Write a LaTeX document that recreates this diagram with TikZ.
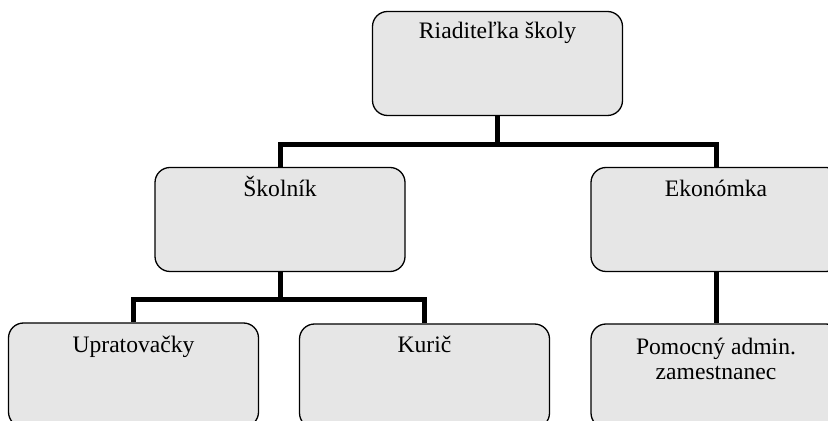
\documentclass[tikz,border=0pt]{standalone}
\usepackage{fontspec}
\setmainfont{Liberation Serif}
\usetikzlibrary{positioning}
\definecolor{boxgray}{HTML}{E6E6E6}

\begin{document}
\begin{tikzpicture}[x=0.5pt,y=-0.5pt,
    main node/.style={draw,rounded corners=7.5pt,fill=boxgray,line width=0.65pt,minimum width=125pt,minimum height=52pt,inner sep=0pt},
    name text/.style={font=\fontsize{11.8}{12.5}\selectfont,inner sep=0pt,anchor=base,align=center},
    link/.style={line width=2.5pt}]

  \useasboundingbox (0,0) rectangle (828,421);
  \clip (0,0) rectangle (828,421);

  \node[main node] (1) at (497.5,63.5) {};
  \node[main node] (2) at (280,219.5) {};
  \node[main node] (3) at (716,219.5) {};
  \node[main node] (4) at (133.5,375) {};
  \node[main node] (5) at (424.5,376) {};
  \node[main node] (6) at (716,376) {};

  \node[name text] (t1) at (497.5,39) {Riaditeľka školy};
  \node[name text] (t2) at (280,197) {Školník};
  \node[name text] (t3) at (716,197) {Ekonómka};
  \node[name text] (t4) at (133.5,353) {Upratovačky};
  \node[name text] (t5) at (424.5,353) {Kurič};
  \node[name text,anchor=north] (t6) at (716,338) {Pomocný admin.\\zamestnanec};

  \draw[link] (1.south) -- ++(0,28) -| (2.north);
  \draw[link] (1.south) -- ++(0,28) -| (3.north);
  \draw[link] (2.south) -- ++(0,27) -| (4.north);
  \draw[link] (2.south) -- ++(0,27) -| (5.north);
  \draw[link] (3) -- (6);
\end{tikzpicture}
\end{document}
